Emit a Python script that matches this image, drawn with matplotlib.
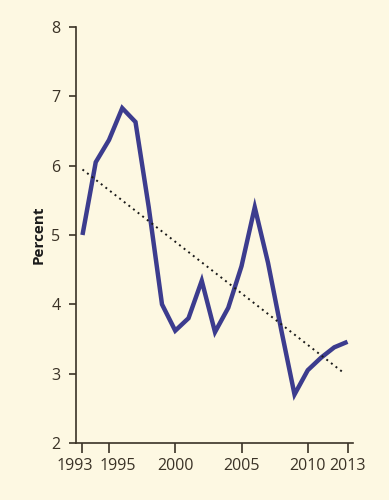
import numpy as np
import matplotlib.pyplot as plt
from matplotlib.transforms import ScaledTranslation

# valeurs
annees = list(range(1993, 2014))
pourcent = [5.0, 6.05, 6.37, 6.83, 6.63, 5.4, 4.0, 3.62, 3.8, 4.34, 3.6,
            3.95, 4.55, 5.4, 4.6, 3.63, 2.7, 3.05, 3.23, 3.38, 3.46]
ticks_x = [1993, 1995, 2000, 2005, 2010, 2013]
ticks_y = [2, 3, 4, 5, 6, 7, 8]

fond = '#fdf8e2'
brun = '#3a3226'

plt.rcParams['font.family'] = ['Open Sans', 'DejaVu Sans']

fig = plt.figure(figsize=(3.89, 5), dpi=100, facecolor=fond)
ax = fig.add_axes([0.195, 0.114, 0.712, 0.832], facecolor=fond)

ax.plot(annees, pourcent, color='#3c3c8e', lw=3.2, solid_joinstyle='miter',
        solid_capstyle='butt')

# droite de tendance
a, b = np.polyfit(annees, pourcent, 1)
xt = np.linspace(annees[0], annees[-1] - 0.3, 2)
ax.plot(xt, a * xt + b, color='#1a1a1a', lw=1.4, ls=(0, (1, 2)))

ax.set_xlim(1992.5, 2013.4)
ax.set_ylim(2, 8)
ax.set_xticks(ticks_x)
ax.set_yticks(ticks_y)

for s in ['top', 'right']:
    ax.spines[s].set_visible(False)
for s in ['left', 'bottom']:
    ax.spines[s].set_color(brun)
    ax.spines[s].set_linewidth(1.2)

ax.tick_params(axis='x', length=7, width=1.2, color=brun, labelcolor=brun,
               labelsize=11.5, pad=4)
ax.tick_params(axis='y', length=5, width=1.2, color=brun, labelcolor=brun,
               labelsize=11.5, pad=6)

# decale les deux premieres etiquettes pour qu'elles ne se chevauchent pas
labels = ax.get_xticklabels()
decalages = [-8, 9]
for lab, d in zip(labels, decalages):
    lab.set_transform(lab.get_transform() + ScaledTranslation(d / 100, 0, fig.dpi_scale_trans))

ax.set_ylabel('Percent', fontsize=11, fontweight='bold', color='#1a1a1a',
              labelpad=4)

plt.savefig('out.png', dpi=100, facecolor=fond)
